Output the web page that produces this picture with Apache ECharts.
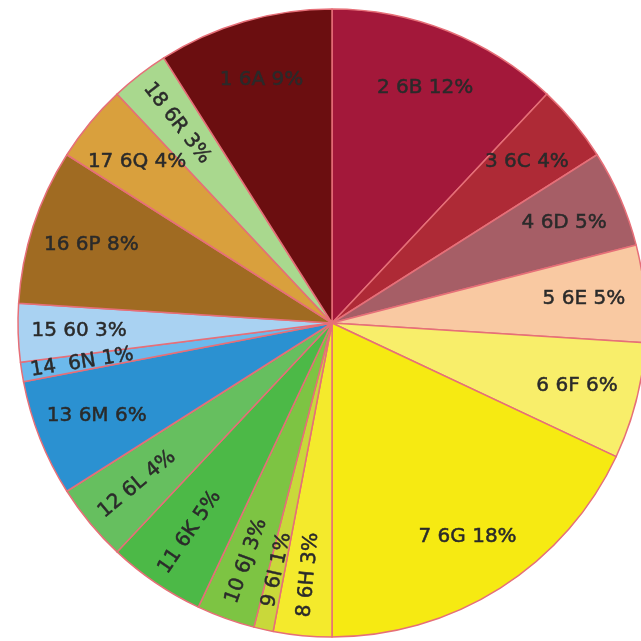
<!DOCTYPE html>
<html>
<head>
<meta charset="utf-8">
<script src="https://cdn.jsdelivr.net/npm/echarts@6/dist/echarts.min.js"></script>
<style>
  html, body { margin: 0; padding: 0; background: #fff; }
  #chart { width: 641px; height: 641px; }
</style>
</head>
<body>
<div id="chart"></div>
<script>
// ข้อมูล (ลำดับตามเข็มนาฬิกาเริ่มจาก 12 นาฬิกา)
const ids = [2, 3, 4, 5, 6, 7, 8, 9, 10, 11, 12, 13, 14, 15, 16, 17, 18, 1]
const names = ['6B', '6C', '6D', '6E', '6F', '6G', '6H', '6I', '6J', '6K', '6L', '6M', '6N', '60', '6P', '6Q', '6R', '6A']
const values = [12, 4, 5, 5, 6, 18, 3, 1, 3, 5, 4, 6, 1, 3, 8, 4, 3, 9]
const colors = ['#a3183a', '#ae2a36', '#a65e66', '#f9c9a2', '#f8ee6a', '#f6ea12', '#f4ea2c', '#c9d83a', '#7dc443',
  '#4cb947', '#66bf5f', '#2b91d1', '#6cb9ec', '#a9d2f2', '#a06b22', '#d9a03d', '#a9d88e', '#6b0e10']
// ป้ายที่หมุนตามแนวรัศมี
const radialNames = ['6H', '6I', '6J', '6K', '6L', '6N', '6R']

const chart = echarts.init(document.getElementById('chart'))

const pieData = names.map((n, i) => ({
  name: n,
  value: values[i],
  itemStyle: { color: colors[i] },
}))

const labelData = names.map((n, i) => ({
  name: n,
  value: values[i],
  label: {
    rotate: radialNames.includes(n) ? 'radial' : 0,
    formatter: ids[i] + (n === '6N' ? '  ' : ' ') + n + ' ' + values[i] + '%',
  },
}))

chart.setOption({
  animation: false,
  backgroundColor: '#fff',
  series: [
    {
      type: 'pie',
      center: [332, 323],
      radius: [0, 314],
      startAngle: 90,
      clockwise: true,
      silent: true,
      label: { show: false },
      labelLine: { show: false },
      itemStyle: {
        borderColor: '#e66f78',
        borderWidth: 1.5,
      },
      data: pieData,
    },
    {
      // ชั้นโปร่งใสสำหรับวางป้ายที่ ~0.79 ของรัศมี
      type: 'pie',
      center: [332, 323],
      radius: [186, 314],
      startAngle: 90,
      clockwise: true,
      silent: true,
      avoidLabelOverlap: false,
      labelLayout: { hideOverlap: false },
      itemStyle: { color: 'rgba(0,0,0,0)', borderWidth: 0 },
      labelLine: { show: false },
      label: {
        show: true,
        position: 'inside',
        fontFamily: 'DejaVu Sans',
        fontSize: 20,
        color: '#2a2a2a',
        textBorderColor: '#2a2a2a',
        textBorderWidth: 0.5,
      },
      data: labelData,
    },
  ],
})
</script>
</body>
</html>
